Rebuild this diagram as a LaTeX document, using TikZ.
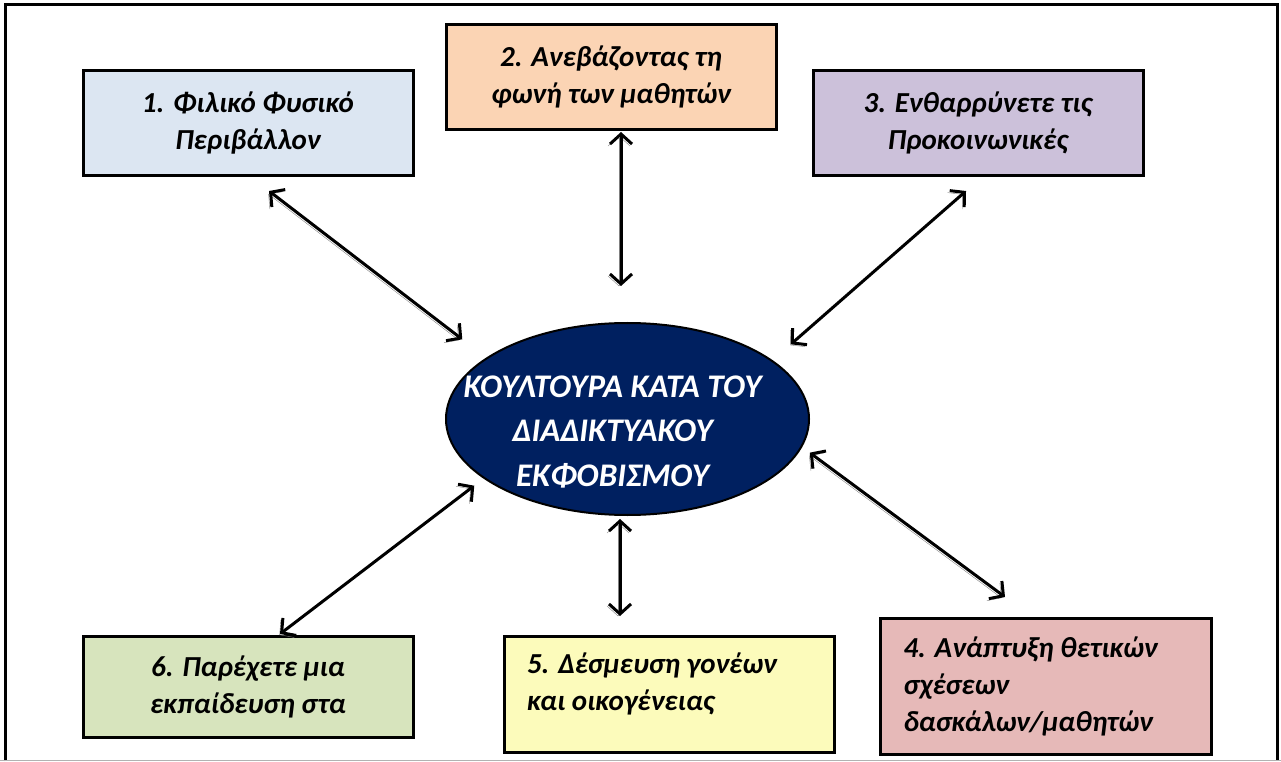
\documentclass[tikz,border=0pt]{standalone}
\usepackage{fontspec}
\setmainfont{Carlito}
\usetikzlibrary{positioning,shapes.geometric,arrows.meta}

\definecolor{coreblue}{HTML}{002060}
\definecolor{fillone}{HTML}{DCE6F2}
\definecolor{filltwo}{HTML}{FBD4B4}
\definecolor{fillthree}{HTML}{CCC1DA}
\definecolor{fillfour}{HTML}{E6B9B8}
\definecolor{fillfive}{HTML}{FCFBBB}
\definecolor{fillsix}{HTML}{D7E4BD}

\begin{document}
\begin{tikzpicture}[x=1pt, y=1pt,
    stepbox/.style={draw, line width=3pt, minimum width=330pt, minimum height=105pt,
      align=center, font=\fontsize{29}{37}\selectfont\bfseries\itshape},
    leftbox/.style={stepbox, align=flush left, text width=284pt, inner xsep=23pt},
    core/.style={ellipse, draw, line width=2pt, fill=coreblue,
      minimum width=363pt, minimum height=192pt},
    coretext/.style={text=white, align=center,
      font=\fontsize{33}{44.5}\selectfont\bfseries\itshape},
    link/.style={line width=3pt,
      {Straight Barb[length=10pt,width=22pt]}-{Straight Barb[length=10pt,width=22pt]},
      preaction={draw=black!50, transform canvas={xshift=-2pt, yshift=-2pt}}}]
  \useasboundingbox (0,0) rectangle (1281,761);

  % frame
  \draw[line width=3pt] (5,0) -- (5,756) -- (1277,756) -- (1277,0);
  \draw[black!30, line width=1pt] (0,0.5) -- (1281,0.5);

  \node[core] (core) at (627.5,342) {};
  \node[coretext] (corelabel) at ([shift={(-15,-13)}]core.center)
    {ΚΟΥΛΤΟΥΡΑ ΚΑΤΑ ΤΟΥ\\ΔΙΑΔΙΚΤΥΑΚΟΥ\\ΕΚΦΟΒΙΣΜΟΥ};

  \node[stepbox, fill=filltwo, above=191pt of core, xshift=-16.5pt] (b2)
    {2. Ανεβάζοντας τη\\φωνή των μαθητών};
  \node[stepbox, fill=fillone, left=30pt of b2, yshift=-46pt] (b1)
    {1. Φιλικό Φυσικό\\Περιβάλλον};
  \node[stepbox, fill=fillthree, right=34pt of b2, yshift=-46pt] (b3)
    {3. Ενθαρρύνετε τις\\Προκοινωνικές};

  \node[stepbox, fill=fillsix, minimum height=101pt, below=458pt of b1] (b6)
    {6. Παρέχετε μια\\εκπαίδευση στα};
  \node[leftbox, fill=fillfive, minimum height=116pt, text depth=63pt,
    right=88pt of b6, yshift=-7.5pt] (b5)
    {5. Δέσμευση γονέων\\και οικογένειας};
  \node[leftbox, fill=fillfour, minimum width=331pt, minimum height=136pt,
    right=43pt of b5, yshift=8pt] (b4)
    {4. Ανάπτυξη θετικών\\σχέσεων\\δασκάλων/μαθητών};

  \draw[link] ([shift={(21,-14)}]b1.south) -- ([shift={(-36.2,11.1)}]core.north west);
  \draw[link] ([shift={(10,-1)}]b2.south) -- ([shift={(-6.5,36)}]core.north);
  \draw[link] ([shift={(-12,-14)}]b3.south) -- ([shift={(34.2,6.1)}]core.north east);
  \draw[link] ([shift={(53.2,34.9)}]core.south east) -- ([shift={(-40.5,20)}]b4.north);
  \draw[link] ([shift={(-7.5,-3)}]core.south) -- ([shift={(-49,19)}]b5.north);
  \draw[link] ([shift={(-24.2,1.9)}]core.south west) -- ([shift={(32,1)}]b6.north);
\end{tikzpicture}
\end{document}
